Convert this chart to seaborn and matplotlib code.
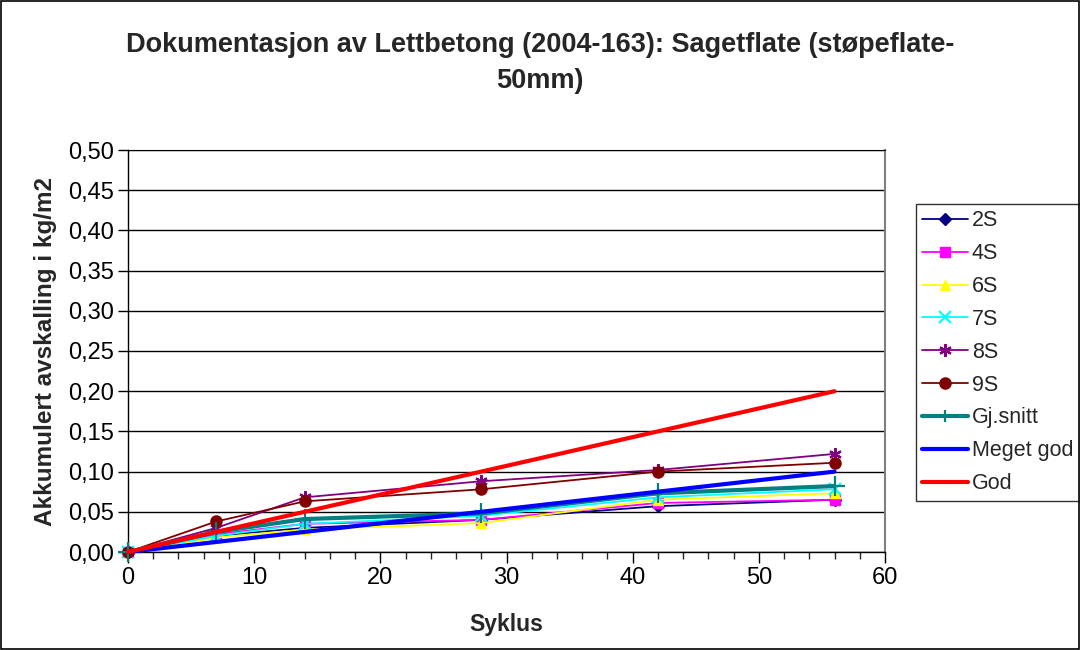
import matplotlib
matplotlib.use("Agg")
import matplotlib.pyplot as plt
import matplotlib.ticker as mticker
from matplotlib.patches import Rectangle
import seaborn as sns
import pandas as pd

# ── Data ───────────────────────────────────────────────────────────
syklus = [0, 7, 14, 28, 42, 56]
s2 = [0.0, 0.020, 0.030, 0.040, 0.057, 0.065]
s4 = [0.0, 0.022, 0.035, 0.040, 0.061, 0.065]
s6 = [0.0, 0.018, 0.028, 0.036, 0.065, 0.073]
s7 = [0.0, 0.020, 0.035, 0.045, 0.068, 0.078]
s8 = [0.0, 0.030, 0.068, 0.088, 0.102, 0.122]
s9 = [0.0, 0.038, 0.063, 0.078, 0.100, 0.111]
snitt = [0.0, 0.025, 0.041, 0.048, 0.073, 0.082]
meget_god = [0.0, 0.0125, 0.025, 0.050, 0.075, 0.100]
god = [0.0, 0.025, 0.050, 0.100, 0.150, 0.200]

series = {'2S': s2, '4S': s4, '6S': s6, '7S': s7, '8S': s8, '9S': s9,
          'Gj.snitt': snitt, 'Meget god': meget_god, 'God': god}

styles = {
    '2S':        dict(color='#000080', marker='D', lw=1.3, ms=6),
    '4S':        dict(color='#FF00FF', marker='s', lw=1.3, ms=7),
    '6S':        dict(color='#FFFF00', marker='^', lw=1.3, ms=7),
    '7S':        dict(color='#00FFFF', marker='x', lw=1.3, ms=8),
    '8S':        dict(color='#800080', marker=(6, 2, 0), lw=1.3, ms=9),
    '9S':        dict(color='#800000', marker='o', lw=1.3, ms=8),
    'Gj.snitt':  dict(color='#008080', marker='+', lw=3.0, ms=14),
    'Meget god': dict(color='#0000FF', marker=None, lw=3.0, ms=0),
    'God':       dict(color='#FF0000', marker=None, lw=3.0, ms=0),
}

sns.set_style("white")
plt.rcParams['font.family'] = ['Liberation Sans', 'DejaVu Sans']

fig = plt.figure(figsize=(10.8, 6.5), dpi=100)
ax = fig.add_axes([128/1080, (650-552)/650, (885-128)/1080, (552-150)/650])

for name, vals in series.items():
    st = styles[name]
    df = pd.DataFrame({'Syklus': syklus, 'val': vals})
    mew = 1.6 if st['marker'] in ('x', '+', (6, 2, 0)) else 1
    sns.lineplot(data=df, x='Syklus', y='val', ax=ax, color=st['color'],
                 linewidth=st['lw'], marker=st['marker'], markersize=st['ms'],
                 markeredgecolor=st['color'], markeredgewidth=mew,
                 label=name, clip_on=False, zorder=3)

ax.set_xlim(0, 60)
ax.set_ylim(0, 0.5)
ax.xaxis.set_major_locator(mticker.MultipleLocator(10))
ax.xaxis.set_minor_locator(mticker.MultipleLocator(2))
ax.yaxis.set_major_locator(mticker.MultipleLocator(0.05))
ax.yaxis.set_major_formatter(mticker.FuncFormatter(lambda v, p: f'{v:.2f}'.replace('.', ',')))
ax.yaxis.grid(True, color='black', linewidth=1)
ax.set_axisbelow(True)

ax.tick_params(axis='both', labelsize=17, direction='out', colors='black')
ax.tick_params(axis='x', which='major', length=8, width=1, bottom=True, pad=3)
ax.tick_params(axis='x', which='minor', length=5, width=1, bottom=True)
ax.tick_params(axis='y', which='major', length=7, width=1, left=True, pad=3)

for side in ['left', 'bottom']:
    ax.spines[side].set_color('black')
    ax.spines[side].set_linewidth(1)
ax.spines['right'].set_color('#808080')
ax.spines['right'].set_linewidth(1.5)
ax.spines['top'].set_color('black')

ax.set_xlabel('Syklus', fontsize=16.5, fontweight='bold', labelpad=17)
ax.set_ylabel('Akkumulert avskalling i kg/m2', fontsize=17.5, fontweight='bold', labelpad=8)

fig.text(0.5, 1 - 45/650, 'Dokumentasjon av Lettbetong (2004-163): Sagetflate (støpeflate-',
         ha='center', va='center', fontsize=19.5, fontweight='bold')
fig.text(0.5, 1 - 81/650, '50mm)', ha='center', va='center', fontsize=19.5, fontweight='bold')

leg = ax.legend(loc='upper left', bbox_to_anchor=(916/1080, 1 - 204/650),
                bbox_transform=fig.transFigure, fontsize=15.5, frameon=True,
                fancybox=False, edgecolor='black', borderaxespad=0,
                handlelength=2.1, handletextpad=0.2, labelspacing=0.55,
                borderpad=0.3)
leg.get_frame().set_linewidth(1)
for h in leg.legend_handles:
    h.set_markersize(min(h.get_markersize(), 9))

fig.patches.append(Rectangle((0.001, 0.001), 0.998, 0.997, transform=fig.transFigure,
                             fill=False, edgecolor='black', linewidth=1.2))

fig.savefig('out.png', dpi=100)
